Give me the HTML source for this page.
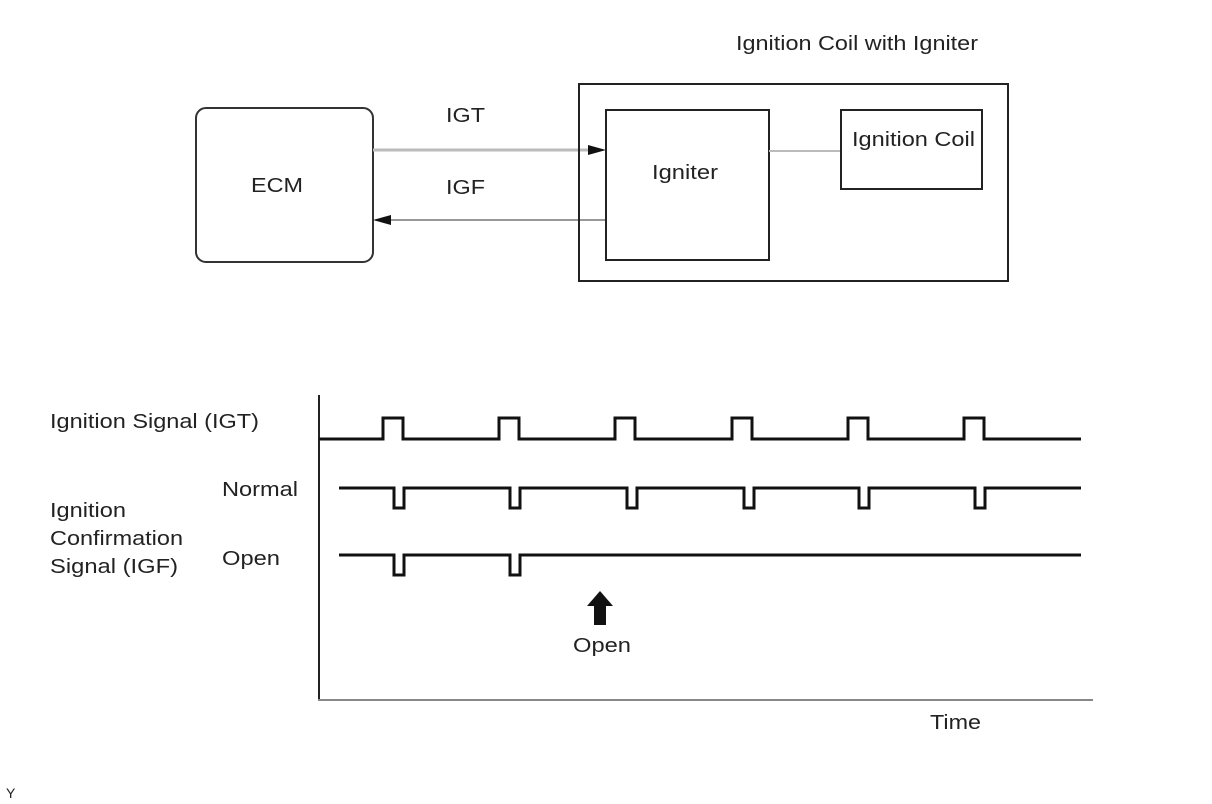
<!DOCTYPE html>
<html><head><style>body{margin:0;background:#fff}svg{display:block}text{font-family:"Liberation Sans",sans-serif;fill:#222}</style></head><body>
<svg width="1212" height="804" viewBox="0 0 1212 804">
<text x="736" y="50" font-size="20" textLength="242" lengthAdjust="spacingAndGlyphs">Ignition Coil with Igniter</text>
<rect x="196" y="108" width="177" height="154" rx="10" fill="none" stroke="#333" stroke-width="2"/>
<text x="251" y="192" font-size="20" textLength="52" lengthAdjust="spacingAndGlyphs">ECM</text>
<text x="446" y="122" font-size="20" textLength="39" lengthAdjust="spacingAndGlyphs">IGT</text>
<text x="446" y="194" font-size="20" textLength="39" lengthAdjust="spacingAndGlyphs">IGF</text>
<line x1="373" y1="150" x2="592" y2="150" stroke="#bbb" stroke-width="3"/>
<polygon points="606,150 588,145 588,155" fill="#111"/>
<line x1="385" y1="220" x2="606" y2="220" stroke="#999" stroke-width="2"/>
<polygon points="373,220 391,215 391,225" fill="#111"/>
<rect x="579" y="84" width="429" height="197" fill="none" stroke="#222" stroke-width="2"/>
<rect x="606" y="110" width="163" height="150" fill="none" stroke="#222" stroke-width="2"/>
<text x="652" y="179" font-size="20" textLength="66" lengthAdjust="spacingAndGlyphs">Igniter</text>
<line x1="769" y1="151" x2="841" y2="151" stroke="#bbb" stroke-width="2"/>
<rect x="841" y="110" width="141" height="79" fill="none" stroke="#222" stroke-width="2"/>
<text x="852" y="146" font-size="20" textLength="123" lengthAdjust="spacingAndGlyphs">Ignition Coil</text>
<line x1="319" y1="395" x2="319" y2="701" stroke="#222" stroke-width="2"/>
<line x1="318" y1="700" x2="1093" y2="700" stroke="#888" stroke-width="2"/>
<g fill="none" stroke="#111" stroke-width="3">
<polyline points="319,439 383,439 383,418 403,418 403,439 499,439 499,418 519,418 519,439 615,439 615,418 635,418 635,439 732,439 732,418 752,418 752,439 848,439 848,418 868,418 868,439 964,439 964,418 984,418 984,439 1081,439"/>
<polyline points="339,488 394,488 394,508 404,508 404,488 510,488 510,508 520,508 520,488 627,488 627,508 637,508 637,488 744,488 744,508 754,508 754,488 859,488 859,508 869,508 869,488 975,488 975,508 985,508 985,488 1081,488"/>
<polyline points="339,555 394,555 394,575 404,575 404,555 510,555 510,575 520,575 520,555 1081,555"/>
</g>
<polygon points="600,591 613,606 606,606 606,625 594,625 594,606 587,606" fill="#111"/>
<text x="573" y="652" font-size="20" textLength="58" lengthAdjust="spacingAndGlyphs">Open</text>
<text x="50" y="428" font-size="20" textLength="209" lengthAdjust="spacingAndGlyphs">Ignition Signal (IGT)</text>
<text x="222" y="496" font-size="20" textLength="76" lengthAdjust="spacingAndGlyphs">Normal</text>
<text x="222" y="565" font-size="20" textLength="58" lengthAdjust="spacingAndGlyphs">Open</text>
<text x="50" y="517" font-size="20" textLength="76" lengthAdjust="spacingAndGlyphs">Ignition</text>
<text x="50" y="545" font-size="20" textLength="133" lengthAdjust="spacingAndGlyphs">Confirmation</text>
<text x="50" y="573" font-size="20" textLength="128" lengthAdjust="spacingAndGlyphs">Signal (IGF)</text>
<text x="930" y="729" font-size="20" textLength="51" lengthAdjust="spacingAndGlyphs">Time</text>
<text x="6" y="798" font-size="14">Y</text>
</svg>
</body></html>
